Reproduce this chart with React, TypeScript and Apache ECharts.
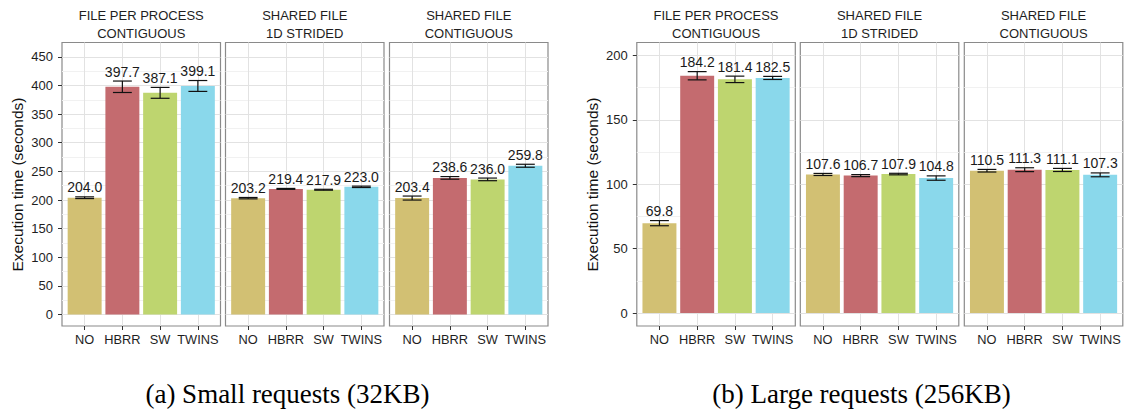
import React, { useEffect, useRef } from "react";
import * as echarts from "echarts";

// ---------- data ----------
const categories = ["NO", "HBRR", "SW", "TWINS"];
const facetTitles = ["FILE PER PROCESS\nCONTIGUOUS", "SHARED FILE\n1D STRIDED", "SHARED FILE\nCONTIGUOUS"];

const smallFPP = [204.0, 397.7, 387.1, 399.1];
const smallFPPErr = [1.5, 10, 9.5, 9.5];
const smallStrided = [203.2, 219.4, 217.9, 223.0];
const smallStridedErr = [1.2, 0.8, 0.8, 1.2];
const smallContig = [203.4, 238.6, 236.0, 259.8];
const smallContigErr = [3.5, 2.3, 2.3, 2.6];

const largeFPP = [69.8, 184.2, 181.4, 182.5];
const largeFPPErr = [2.0, 3.2, 2.5, 1.2];
const largeStrided = [107.6, 106.7, 107.9, 104.8];
const largeStridedErr = [0.8, 0.8, 0.6, 1.7];
const largeContig = [110.5, 111.3, 111.1, 107.3];
const largeContigErr = [1.0, 1.5, 1.2, 1.5];

const smallTicks = [0, 50, 100, 150, 200, 250, 300, 350, 400, 450];
const largeTicks = [0, 50, 100, 150, 200];
const yTitle = "Execution time (seconds)";
const captions = ["(a) Small requests (32KB)", "(b) Large requests (256KB)"];

// ---------- style / layout ----------
const barColors = ["#D2C073", "#C46B6F", "#BED56F", "#8AD8EB"];
const MAJOR = "#e2e2e2";
const MINOR = "#f1f1f1";
const NONE = "rgba(0,0,0,0)";
const FONT = "Liberation Sans";
const GRID_TOP = 42.5;
const GRID_H = 283.5;
const GRID_W = 158.5;
const GRID_LEFTS = [62, 225.5, 389.5, 636.8, 800.3, 964.3];
const XS = 10; // category k sits at x = (k+1)*XS
const X_MIN = 4;
const X_MAX = 46;
const panelY = [
  { min: -20, max: 475, step: 5, ticks: smallTicks, titleX: 17.2, capX: 287.5 },
  { min: -10, max: 210, step: 5, ticks: largeTicks, titleX: 592, capX: 861.5 },
];

const facets = [
  { panel: 0, col: 0, values: smallFPP, errs: smallFPPErr },
  { panel: 0, col: 1, values: smallStrided, errs: smallStridedErr },
  { panel: 0, col: 2, values: smallContig, errs: smallContigErr },
  { panel: 1, col: 0, values: largeFPP, errs: largeFPPErr },
  { panel: 1, col: 1, values: largeStrided, errs: largeStridedErr },
  { panel: 1, col: 2, values: largeContig, errs: largeContigErr },
];

function yLineColors(min: number, step: number) {
  const out: string[] = [];
  for (let i = 0; i < 50 / step; i++) {
    const v = min + step * i;
    const m = ((v % 50) + 50) % 50;
    out.push(m === 0 ? MAJOR : m === 25 ? MINOR : NONE);
  }
  return out;
}
function xLineColors() {
  const out: string[] = [];
  for (let i = 0; i < XS / 2; i++) {
    const v = X_MIN + 2 * i;
    out.push(v % XS === 0 ? MAJOR : NONE);
  }
  return out;
}

function buildOption() {
  const grid: any[] = [];
  const xAxis: any[] = [];
  const yAxis: any[] = [];
  const series: any[] = [];
  const graphic: any[] = [];

  facets.forEach((f, gi) => {
    const py = panelY[f.panel];
    const left = GRID_LEFTS[gi];
    grid.push({
      left,
      top: GRID_TOP,
      width: GRID_W,
      height: GRID_H,
      show: true,
      borderColor: "#8a8a8a",
      borderWidth: 1.2,
      backgroundColor: "#fff",
      containLabel: false,
    });
    // x gridline axis
    const xg = xAxis.length;
    xAxis.push({
      type: "value",
      gridIndex: gi,
      min: X_MIN,
      max: X_MAX,
      interval: 2,
      position: "bottom",
      axisLine: { show: false, onZero: false },
      axisTick: { show: false },
      axisLabel: { show: false },
      splitLine: { show: true, lineStyle: { color: xLineColors(), width: 1 } },
    });
    // x label axis
    xAxis.push({
      type: "value",
      gridIndex: gi,
      min: X_MIN,
      max: X_MAX,
      position: "bottom",
      axisLine: { show: false, onZero: false },
      axisTick: {
        show: true,
        length: 4,
        customValues: categories.map((_, k) => (k + 1) * XS),
        lineStyle: { color: "#333", width: 1 },
      },
      axisLabel: {
        show: true,
        customValues: categories.map((_, k) => (k + 1) * XS),
        formatter: (v: number) => categories[Math.round(v / XS) - 1] ?? "",
        fontFamily: FONT,
        fontSize: 12.8,
        color: "#1e1e1e",
        margin: 7,
      },
      splitLine: { show: false },
    });
    // y gridline axis
    const yg = yAxis.length;
    yAxis.push({
      type: "value",
      gridIndex: gi,
      min: py.min,
      max: py.max,
      interval: py.step,
      axisLine: { show: false, onZero: false },
      axisTick: { show: false },
      axisLabel: { show: false },
      splitLine: {
        show: true,
        showMaxLine: false,
        lineStyle: { color: yLineColors(py.min, py.step), width: 1 },
      },
    });
    if (f.col === 0) {
      yAxis.push({
        type: "value",
        gridIndex: gi,
        min: py.min,
        max: py.max,
        position: "left",
        axisLine: { show: false, onZero: false },
        axisTick: {
          show: true,
          length: 4,
          customValues: py.ticks,
          lineStyle: { color: "#333", width: 1 },
        },
        axisLabel: {
          show: true,
          customValues: py.ticks,
          fontFamily: FONT,
          fontSize: 13,
          color: "#1e1e1e",
          margin: 9,
        },
        splitLine: { show: false },
      });
    }

    series.push({
      type: "bar",
      xAxisIndex: xg,
      yAxisIndex: yg,
      barWidth: (GRID_W / (X_MAX - X_MIN)) * 9,
      data: f.values.map((v, k) => ({
        value: [(k + 1) * XS, v],
        itemStyle: { color: barColors[k] },
      })),
      z: 2,
    });
    series.push({
      type: "custom",
      xAxisIndex: xg,
      yAxisIndex: yg,
      encode: { x: 0, y: 1 },
      data: f.values.map((v, k) => [(k + 1) * XS, v, f.errs[k]]),
      z: 3,
      renderItem: (_p: any, api: any) => {
        const x = api.value(0);
        const v = api.value(1);
        const e = api.value(2);
        const top = api.coord([x, v + e]);
        const bot = api.coord([x, v - e]);
        const capW = api.size([5, 0])[0];
        const st = { stroke: "#111", lineWidth: 1.2 };
        return {
          type: "group",
          children: [
            { type: "line", shape: { x1: top[0], y1: top[1], x2: bot[0], y2: bot[1] }, style: st },
            { type: "line", shape: { x1: top[0] - capW / 2, y1: top[1], x2: top[0] + capW / 2, y2: top[1] }, style: st },
            { type: "line", shape: { x1: bot[0] - capW / 2, y1: bot[1], x2: bot[0] + capW / 2, y2: bot[1] }, style: st },
            {
              type: "text",
              x: top[0],
              y: top[1] - 2.5,
              style: {
                text: v.toFixed(1),
                align: "center",
                verticalAlign: "bottom",
                fontFamily: FONT,
                fontSize: 14,
                fill: "#1a1a1a",
              },
            },
          ],
        };
      },
    });

    graphic.push({
      type: "text",
      x: left + GRID_W / 2,
      y: 24,
      style: {
        text: facetTitles[f.col],
        align: "center",
        verticalAlign: "middle",
        lineHeight: 18,
        fontFamily: FONT,
        fontSize: 13,
        fill: "#1e1e1e",
      },
    });
  });

  panelY.forEach((py, pi) => {
    graphic.push({
      type: "text",
      x: py.titleX,
      y: 184.5,
      rotation: Math.PI / 2,
      style: {
        text: yTitle,
        align: "center",
        verticalAlign: "middle",
        fontFamily: FONT,
        fontSize: 15.5,
        fill: "#111",
      },
    });
    graphic.push({
      type: "text",
      x: py.capX,
      y: 393.5,
      style: {
        text: captions[pi],
        align: "center",
        verticalAlign: "middle",
        fontFamily: "Liberation Serif",
        fontSize: 27,
        fill: "#000",
      },
    });
  });

  return {
    animation: false,
    backgroundColor: "#fff",
    textStyle: { fontFamily: FONT },
    grid,
    xAxis,
    yAxis,
    series,
    graphic,
  };
}

export default function App() {
  const ref = useRef<HTMLDivElement>(null);
  useEffect(() => {
    if (!ref.current) return;
    const chart = echarts.init(ref.current, undefined, { renderer: "svg" });
    chart.setOption(buildOption() as any);
    return () => chart.dispose();
  }, []);
  return (
    <div
      ref={ref}
      style={{ position: "absolute", left: 0, top: 0, width: 1126, height: 414, background: "#fff" }}
    />
  );
}
